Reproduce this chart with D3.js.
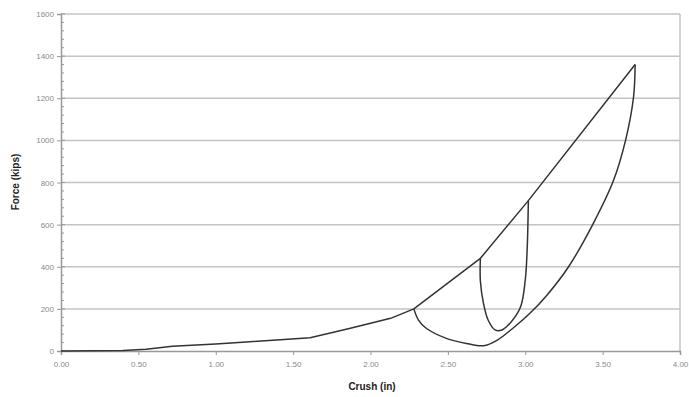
<!DOCTYPE html>
<html>
<head>
<meta charset="utf-8">
<script src="https://cdn.jsdelivr.net/npm/d3@7"></script>
<style>
  body { margin: 0; background: #fff; }
  text { font-family: Arial, "Liberation Sans", sans-serif; }
</style>
</head>
<body>
<div id="chart-area"></div>
<script>
// loading line
let loadX = [0, 0.40, 0.55, 0.72, 1.00, 1.22, 1.61, 1.87, 2.13, 2.28, 2.71, 3.02, 3.71];
let loadY = [0, 2, 8, 22, 33, 44, 63, 108, 155, 200, 440, 714, 1360];

// first unload / reload loop
let loopAX = [2.28, 2.31, 2.36, 2.49, 2.62, 2.73, 2.82, 2.92, 3.03, 3.14, 3.28, 3.44, 3.57, 3.65, 3.70, 3.71];
let loopAY = [200, 147, 108, 60, 36, 25, 52, 108, 179, 265, 400, 606, 809, 1006, 1207, 1360];

// second loop
let loopBX = [2.71, 2.71, 2.73, 2.76, 2.805, 2.85, 2.91, 2.97, 3.00, 3.013, 3.02];
let loopBY = [440, 332, 226, 147, 100, 100, 139, 210, 337, 495, 714];

let xTicks = [0, 0.5, 1, 1.5, 2, 2.5, 3, 3.5, 4];
let yTicks = [0, 200, 400, 600, 800, 1000, 1200, 1400, 1600];

let margin = {left: 61, top: 14, right: 9, bottom: 46};
let width = 689 - margin.left - margin.right;
let height = 397 - margin.top - margin.bottom;

var svg = d3.select('#chart-area')
    .append('svg')
    .attr('width', 689)
    .attr('height', 397);

var g = svg.append('g')
    .attr('transform', 'translate(' + margin.left + ', ' + margin.top + ')');

var x = d3.scaleLinear().domain([0, 4]).range([0, width]);
var y = d3.scaleLinear().domain([0, 1600]).range([height, 0]);

// gridlines
g.selectAll('.grid')
    .data(yTicks.slice(1))
    .enter().append('line')
    .attr('x1', 0)
    .attr('x2', width)
    .attr('y1', d => y(d))
    .attr('y2', d => y(d))
    .attr('stroke', '#c4c4c4')
    .attr('stroke-width', 1.5);

// right border
g.append('line')
    .attr('x1', width).attr('x2', width)
    .attr('y1', 0).attr('y2', height)
    .attr('stroke', '#c4c4c4')
    .attr('stroke-width', 1.5);

// y axis
var yAxisCall = d3.axisLeft(y)
    .tickValues(yTicks)
    .tickSize(4)
    .tickPadding(3)
    .tickFormat(d3.format('d'));
var yAxis = g.append('g').attr('class', 'y axis').call(yAxisCall);

// minor y ticks
var minor = d3.range(0, 1601, 40).filter(d => d % 200 != 0);
g.selectAll('.minor')
    .data(minor)
    .enter().append('line')
    .attr('x1', 0).attr('x2', 3)
    .attr('y1', d => y(d)).attr('y2', d => y(d))
    .attr('stroke', '#999');
g.selectAll('.majorin')
    .data(yTicks)
    .enter().append('line')
    .attr('x1', 0).attr('x2', 4)
    .attr('y1', d => y(d)).attr('y2', d => y(d))
    .attr('stroke', '#999');

// x axis
var xAxisCall = d3.axisBottom(x)
    .tickValues(xTicks)
    .tickSize(4)
    .tickPadding(6)
    .tickFormat(d3.format('.2f'));
var xAxis = g.append('g')
    .attr('class', 'x axis')
    .attr('transform', 'translate(0, ' + height + ')')
    .call(xAxisCall);

[xAxis, yAxis].forEach(function(a) {
    a.select('.domain').attr('stroke', '#999').attr('stroke-width', 1.5);
    a.selectAll('.tick line').attr('stroke', '#999');
    a.selectAll('text')
        .attr('fill', '#8a8a8a')
        .attr('font-size', '8px');
});

// x label
g.append('text')
    .attr('x', 372 - margin.left)
    .attr('y', 390 - margin.top)
    .attr('font-size', '10px')
    .attr('font-weight', 'bold')
    .attr('fill', '#222')
    .attr('text-anchor', 'middle')
    .text('Crush (in)');

// y label
g.append('text')
    .attr('x', -(182 - margin.top))
    .attr('y', 19 - margin.left)
    .attr('font-size', '10px')
    .attr('font-weight', 'bold')
    .attr('fill', '#222')
    .attr('text-anchor', 'middle')
    .attr('transform', 'rotate(-90)')
    .text('Force (kips)');

var line = d3.line()
    .x(d => x(d[0]))
    .y(d => y(d[1]));

var smooth = d3.line()
    .x(d => x(d[0]))
    .y(d => y(d[1]))
    .curve(d3.curveCatmullRom.alpha(0.5));

g.append('path')
    .attr('d', line(d3.zip(loadX, loadY)))
    .attr('fill', 'none')
    .attr('stroke', '#333')
    .attr('stroke-width', 1.5)
    .attr('stroke-linejoin', 'round');

g.selectAll('.loop')
    .data([d3.zip(loopAX, loopAY), d3.zip(loopBX, loopBY)])
    .enter().append('path')
    .attr('d', smooth)
    .attr('fill', 'none')
    .attr('stroke', '#333')
    .attr('stroke-width', 1.5)
    .attr('stroke-linejoin', 'round');
</script>
</body>
</html>
